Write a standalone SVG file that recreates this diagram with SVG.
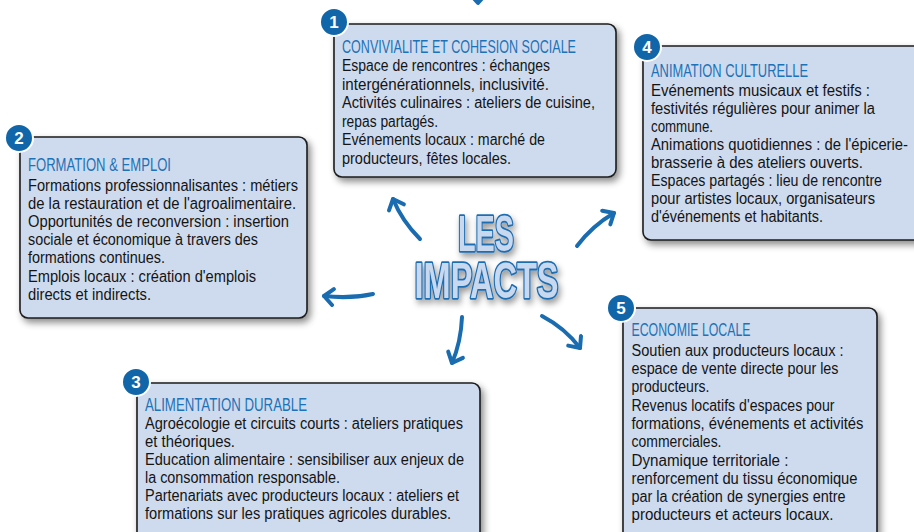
<svg xmlns="http://www.w3.org/2000/svg" width="914" height="532" viewBox="0 0 914 532">
<style>
.box{fill:#cedbee;stroke:#1c1c1c;stroke-width:1.6}
.t{font-family:"Liberation Sans Narrow","Liberation Sans",Arial,sans-serif;font-size:18px;fill:#1c72b6}
.b{font-family:"Liberation Sans Narrow","Liberation Sans",Arial,sans-serif;font-size:16px;fill:#141414}
.badge{fill:#1166a9;stroke:#ffffff;stroke-width:2}
.num{font-family:"Liberation Sans",Arial,sans-serif;font-size:17px;font-weight:bold;fill:#ffffff;text-anchor:middle}
.arr{fill:none;stroke:#1a6cb1;stroke-width:4;stroke-linecap:round;stroke-linejoin:round}
.big{font-family:"Liberation Sans Narrow","Liberation Sans",Arial,sans-serif;font-weight:bold;font-size:50px;fill:#c8d8ef;stroke:#1f6db2;stroke-width:3.6;stroke-linejoin:round;paint-order:stroke}
</style>
<defs>
<filter id="sh" x="-10%" y="-10%" width="130%" height="130%">
<feDropShadow dx="3" dy="4" stdDeviation="3.5" flood-color="#000" flood-opacity="0.45"/>
</filter>
<filter id="tsh" x="-20%" y="-20%" width="140%" height="160%">
<feDropShadow dx="2" dy="4" stdDeviation="3" flood-color="#000" flood-opacity="0.4"/>
</filter>
<marker id="ah" viewBox="-12 -10 16 20" markerWidth="16" markerHeight="20" refX="0" refY="0" orient="auto" markerUnits="userSpaceOnUse">
<path d="M-9,-8 L0,0 L-9,8" fill="none" stroke="#1a6cb1" stroke-width="4" stroke-linecap="round" stroke-linejoin="round"/>
</marker>
</defs>
<rect width="914" height="532" fill="#ffffff"/>

<g id="connectors">
<path class="arr" d="M420,239 Q402,221 393,199" marker-end="url(#ah)"/>
<path class="arr" d="M577,246 Q592,226 614,213" marker-end="url(#ah)"/>
<path class="arr" d="M373,294 Q350,299 324,296" marker-end="url(#ah)"/>
<path class="arr" d="M462,317 Q461,342 452,363" marker-end="url(#ah)"/>
<path class="arr" d="M542,316 Q565,328 580,348" marker-end="url(#ah)"/>
<path class="arr" d="M470,-6 L478,3 L486,-6"/>
</g>

<g id="center" filter="url(#tsh)">
<text class="big" x="486" y="251" text-anchor="middle" textLength="56" lengthAdjust="spacingAndGlyphs">LES</text>
<text class="big" x="486.5" y="298" text-anchor="middle" textLength="144" lengthAdjust="spacingAndGlyphs">IMPACTS</text>
</g>

<g id="node1">
<rect class="box" x="334" y="24" width="282" height="153" rx="8" filter="url(#sh)"/>
<text class="t" x="342" y="53" textLength="234" lengthAdjust="spacingAndGlyphs">CONVIVIALITE ET COHESION SOCIALE</text>
<text class="b" x="342" y="71" textLength="208" lengthAdjust="spacingAndGlyphs">Espace de rencontres : échanges</text>
<text class="b" x="342" y="89.5" textLength="207" lengthAdjust="spacingAndGlyphs">intergénérationnels, inclusivité.</text>
<text class="b" x="342" y="108" textLength="253" lengthAdjust="spacingAndGlyphs">Activités culinaires : ateliers de cuisine,</text>
<text class="b" x="342" y="126.5" textLength="96" lengthAdjust="spacingAndGlyphs">repas partagés.</text>
<text class="b" x="342" y="145" textLength="203" lengthAdjust="spacingAndGlyphs">Evénements locaux : marché de</text>
<text class="b" x="342" y="163.5" textLength="169" lengthAdjust="spacingAndGlyphs">producteurs, fêtes locales.</text>
<circle class="badge" cx="334" cy="22" r="14"/>
<text class="num" x="334" y="28">1</text>
</g>

<g id="node4">
<rect class="box" x="643" y="46" width="290" height="194" rx="8" filter="url(#sh)"/>
<text class="t" x="651" y="77" textLength="157" lengthAdjust="spacingAndGlyphs">ANIMATION CULTURELLE</text>
<text class="b" x="651" y="96" textLength="219" lengthAdjust="spacingAndGlyphs">Evénements musicaux et festifs :</text>
<text class="b" x="651" y="114" textLength="224" lengthAdjust="spacingAndGlyphs">festivités régulières pour animer la</text>
<text class="b" x="651" y="132" textLength="62" lengthAdjust="spacingAndGlyphs">commune.</text>
<text class="b" x="651" y="150" textLength="257" lengthAdjust="spacingAndGlyphs">Animations quotidiennes : de l'épicerie-</text>
<text class="b" x="651" y="168" textLength="212" lengthAdjust="spacingAndGlyphs">brasserie à des ateliers ouverts.</text>
<text class="b" x="651" y="186" textLength="231" lengthAdjust="spacingAndGlyphs">Espaces partagés : lieu de rencontre</text>
<text class="b" x="651" y="204" textLength="224" lengthAdjust="spacingAndGlyphs">pour artistes locaux, organisateurs</text>
<text class="b" x="651" y="222" textLength="172" lengthAdjust="spacingAndGlyphs">d'événements et habitants.</text>
<circle class="badge" cx="647" cy="47" r="14"/>
<text class="num" x="647" y="53">4</text>
</g>

<g id="node2">
<rect class="box" x="20" y="137" width="287" height="181" rx="8" filter="url(#sh)"/>
<text class="t" x="28" y="171" textLength="143" lengthAdjust="spacingAndGlyphs">FORMATION &amp; EMPLOI</text>
<text class="b" x="28" y="190.5" textLength="270" lengthAdjust="spacingAndGlyphs">Formations professionnalisantes : métiers</text>
<text class="b" x="28" y="208.7" textLength="268" lengthAdjust="spacingAndGlyphs">de la restauration et de l'agroalimentaire.</text>
<text class="b" x="28" y="226.9" textLength="261" lengthAdjust="spacingAndGlyphs">Opportunités de reconversion : insertion</text>
<text class="b" x="28" y="245.1" textLength="230" lengthAdjust="spacingAndGlyphs">sociale et économique à travers des</text>
<text class="b" x="28" y="263.3" textLength="137" lengthAdjust="spacingAndGlyphs">formations continues.</text>
<text class="b" x="28" y="281.5" textLength="228" lengthAdjust="spacingAndGlyphs">Emplois locaux : création d'emplois</text>
<text class="b" x="28" y="299.7" textLength="123" lengthAdjust="spacingAndGlyphs">directs et indirects.</text>
<circle class="badge" cx="19" cy="138" r="14"/>
<text class="num" x="19" y="144">2</text>
</g>

<g id="node3">
<rect class="box" x="137" y="383" width="343" height="165" rx="8" filter="url(#sh)"/>
<text class="t" x="145" y="411" textLength="162" lengthAdjust="spacingAndGlyphs">ALIMENTATION DURABLE</text>
<text class="b" x="145" y="428.5" textLength="318" lengthAdjust="spacingAndGlyphs">Agroécologie et circuits courts : ateliers pratiques</text>
<text class="b" x="145" y="446.5" textLength="90" lengthAdjust="spacingAndGlyphs">et théoriques.</text>
<text class="b" x="145" y="464.7" textLength="319" lengthAdjust="spacingAndGlyphs">Education alimentaire : sensibiliser aux enjeux de</text>
<text class="b" x="145" y="482.9" textLength="195" lengthAdjust="spacingAndGlyphs">la consommation responsable.</text>
<text class="b" x="145" y="501.1" textLength="314" lengthAdjust="spacingAndGlyphs">Partenariats avec producteurs locaux : ateliers et</text>
<text class="b" x="145" y="519.3" textLength="306" lengthAdjust="spacingAndGlyphs">formations sur les pratiques agricoles durables.</text>
<circle class="badge" cx="136" cy="382" r="14"/>
<text class="num" x="136" y="388">3</text>
</g>

<g id="node5">
<rect class="box" x="623" y="308" width="254" height="240" rx="8" filter="url(#sh)"/>
<text class="t" x="631.5" y="336" textLength="119" lengthAdjust="spacingAndGlyphs">ECONOMIE LOCALE</text>
<text class="b" x="631.5" y="355.7" textLength="212" lengthAdjust="spacingAndGlyphs">Soutien aux producteurs locaux :</text>
<text class="b" x="631.5" y="374" textLength="207" lengthAdjust="spacingAndGlyphs">espace de vente directe pour les</text>
<text class="b" x="631.5" y="392.3" textLength="78" lengthAdjust="spacingAndGlyphs">producteurs.</text>
<text class="b" x="631.5" y="410.6" textLength="203" lengthAdjust="spacingAndGlyphs">Revenus locatifs d'espaces pour</text>
<text class="b" x="631.5" y="428.9" textLength="232" lengthAdjust="spacingAndGlyphs">formations, événements et activités</text>
<text class="b" x="631.5" y="447.2" textLength="90" lengthAdjust="spacingAndGlyphs">commerciales.</text>
<text class="b" x="631.5" y="465.5" textLength="157" lengthAdjust="spacingAndGlyphs">Dynamique territoriale :</text>
<text class="b" x="631.5" y="483.8" textLength="226" lengthAdjust="spacingAndGlyphs">renforcement du tissu économique</text>
<text class="b" x="631.5" y="502.1" textLength="214" lengthAdjust="spacingAndGlyphs">par la création de synergies entre</text>
<text class="b" x="631.5" y="520.4" textLength="202" lengthAdjust="spacingAndGlyphs">producteurs et acteurs locaux.</text>
<circle class="badge" cx="621" cy="308" r="14"/>
<text class="num" x="621" y="314">5</text>
</g>
</svg>
